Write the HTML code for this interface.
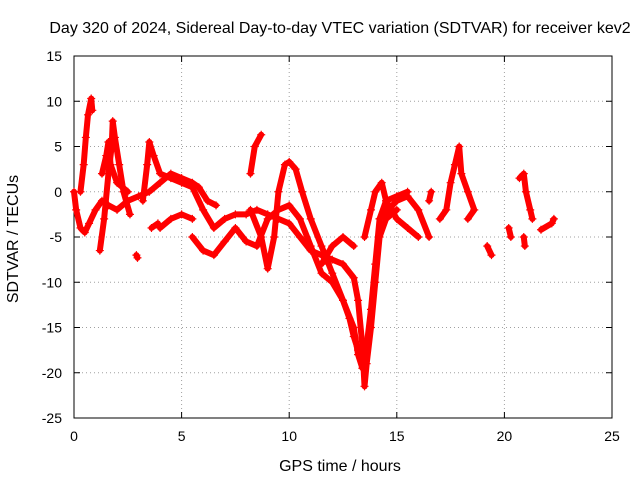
<!DOCTYPE html>
<html><head><meta charset="utf-8"><style>
body{margin:0;background:#fff}
svg{display:block;font-family:"Liberation Sans",sans-serif;font-size:14px}
</style></head><body>
<svg width="640" height="480">
<text x="340" y="33" text-anchor="middle" font-size="16">Day 320 of 2024, Sidereal Day-to-day VTEC variation (SDTVAR) for receiver kev2</text>
<g id="grid"></g>
<g id="axes"></g>
<g id="series"></g>
<text x="340" y="471" text-anchor="middle" font-size="16">GPS time / hours</text>
<text transform="translate(18,239) rotate(-90)" text-anchor="middle" font-size="16">SDTVAR / TECUs</text>
</svg>
<script>
const xTicks=[0,5,10,15,20,25];
const yTicks=[15,10,5,0,-5,-10,-15,-20,-25];
const traces=[
[[0,0],[0.1,-2],[0.3,-4],[0.5,-4.5],[0.7,-3.5],[1,-2],[1.3,-1],[1.6,-1.5],[2,-2],[2.5,-1],[3,-0.5],[3.5,0],[4,1],[4.5,2],[5,1.5],[5.5,1],[5.8,0.5],[6.2,-1],[6.6,-1.5]],
[[0.3,0],[0.45,3],[0.55,6],[0.65,8.5],[0.8,10.3],[0.85,9]],
[[1.2,-6.5],[1.4,-3],[1.6,2],[1.75,5],[1.8,7.8],[1.9,6],[2.1,3],[2.3,0],[2.6,-2.5]],
[[1.3,2],[1.5,4],[1.6,5.5],[1.7,3],[2,1],[2.5,0]],
[[3.2,-1],[3.4,3],[3.5,5.5],[3.7,4],[4,2],[4.5,1.5],[5,1],[5.5,0.5],[6,-2],[6.5,-4],[7,-3],[7.5,-2.5],[8,-2.5],[8.5,-2],[9,-2.5],[9.5,-3],[10,-3.5],[10.5,-5],[11,-6.5],[11.5,-7],[12,-7.5],[12.5,-8],[13,-9.5],[13.2,-12],[13.4,-17],[13.5,-21.5],[13.6,-19],[13.8,-15],[14,-10],[14.2,-5],[14.5,-3],[15,-2]],
[[5.5,-5],[6,-6.5],[6.5,-7],[7,-5.5],[7.5,-4],[8,-5.5],[8.5,-6],[9,-3],[9.5,-2],[10,-1.5],[10.5,-3],[11,-6],[11.5,-9],[12,-10],[12.5,-12],[13,-15],[13.2,-18],[13.4,-19.5],[13.6,-17],[13.8,-13],[14,-8],[14.2,-3],[14.5,-1],[15,-0.5],[15.5,0]],
[[8.2,-2],[8.7,-5],[9,-8.5],[9.3,-5],[9.5,0],[9.8,3],[10,3.3],[10.3,2.5],[10.6,0],[11,-3],[11.5,-6],[12,-9],[12.5,-12],[12.8,-14],[13,-16],[13.2,-17.5]],
[[8.2,2],[8.4,5],[8.7,6.3]],
[[4,-4],[4.5,-3],[5,-2.5],[5.5,-3]],
[[11.5,-8],[12,-6],[12.5,-5],[13,-6]],
[[13.5,-5],[13.8,-2],[14,0],[14.3,1],[14.5,-1],[15,-3],[15.5,-4],[16,-5]],
[[14.2,-3],[15,-1],[15.5,-0.5],[16,-2],[16.5,-5]],
[[16.5,-1],[16.6,0]],
[[17,-3],[17.3,-2],[17.5,1],[17.7,3],[17.9,5],[18,2],[18.3,0],[18.6,-2],[18.3,-3]],
[[19.2,-6],[19.4,-7]],
[[20.2,-4],[20.3,-5]],
[[20.7,1.5],[20.9,2],[21,0],[21.2,-2],[21.3,-3]],
[[20.9,-5],[20.95,-6]],
[[21.7,-4.2],[22.2,-3.5],[22.3,-3]],
[[2.9,-7],[2.95,-7.3]],
[[3.6,-4],[3.9,-3.5]]
];
const X0=74,X1=612,Y0=418,Y1=56;
const xs=t=>X0+(t-0)/25*(X1-X0);
const ys=v=>Y0-(v+25)/40*(Y0-Y1);
const NS="http://www.w3.org/2000/svg";
function mk(tag,at,parent){const e=document.createElementNS(NS,tag);for(const k in at)e.setAttribute(k,at[k]);parent.appendChild(e);return e;}
const grid=document.getElementById('grid'),axes=document.getElementById('axes'),ser=document.getElementById('series');
xTicks.forEach(t=>{const x=xs(t);
 if(t>0&&t<25){const g=mk('line',{x1:x,x2:x,y1:Y1,y2:Y0,stroke:'#a0a0a0','stroke-dasharray':'1,3'},grid);
 
 }
 mk('line',{x1:x,x2:x,y1:Y0,y2:Y0-6,stroke:'#000'},axes);
 mk('line',{x1:x,x2:x,y1:Y1,y2:Y1+6,stroke:'#000'},axes);
 const l=mk('text',{x:x,y:Y0+23,'text-anchor':'middle'},axes);l.textContent=t;
 
 });
yTicks.forEach(v=>{const y=ys(v);
 if(v>-25&&v<15){const g=mk('line',{x1:X0,x2:X1,y1:y,y2:y,stroke:'#a0a0a0','stroke-dasharray':'1,3'},grid);
 
 }
 mk('line',{x1:X0,x2:X0+6,y1:y,y2:y,stroke:'#000'},axes);
 mk('line',{x1:X1,x2:X1-6,y1:y,y2:y,stroke:'#000'},axes);
 const l=mk('text',{x:X0-12,y:y+5,'text-anchor':'end'},axes);l.textContent=v;
 
 });
mk('rect',{x:X0,y:Y1,width:X1-X0,height:Y0-Y1,fill:'none',stroke:'#000'},axes);
traces.forEach(tr=>{
 const p=mk('polyline',{points:tr.map(d=>xs(d[0])+','+ys(d[1])).join(' '),fill:'none',stroke:'#f00','stroke-width':6,'stroke-linejoin':'round','stroke-linecap':'round'},ser);
 
 
 tr.forEach(d=>{const x=xs(d[0]),y=ys(d[1]);
  const m=mk('path',{d:`M${x-4},${y}h8M${x},${y-4}v8`,stroke:'#f00','stroke-width':1.2},ser);
  
  });
});
</script>
</body></html>
